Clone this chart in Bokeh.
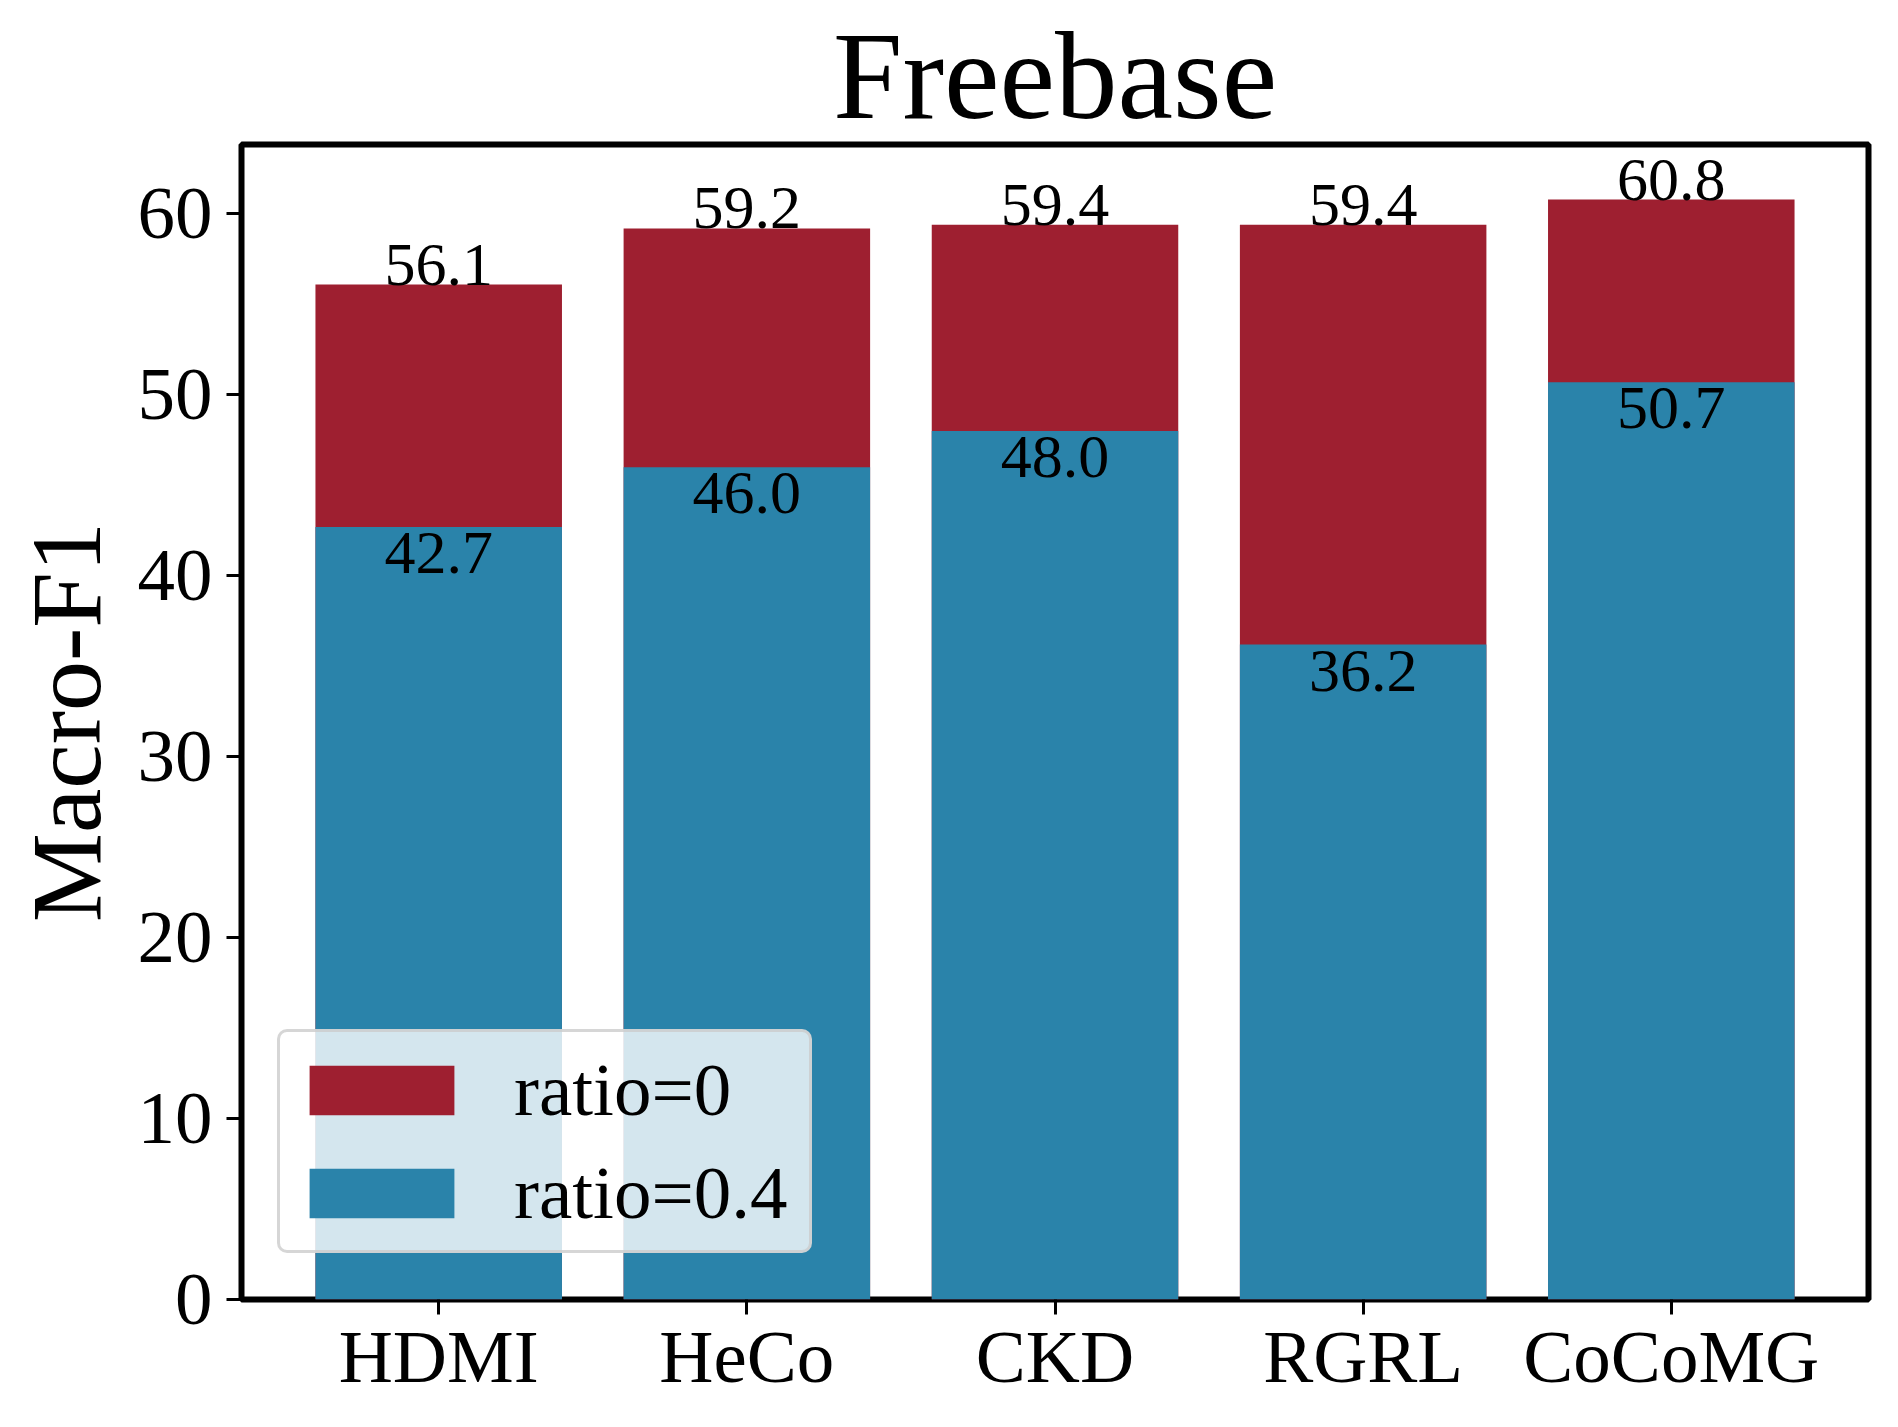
from bokeh.plotting import figure
from bokeh.models import ColumnDataSource, Range1d, FixedTicker
from bokeh.embed import file_html
from bokeh.resources import INLINE
from bokeh.core.properties import value

# ---- data ----
categories = ["HDMI", "HeCo", "CKD", "RGRL", "CoCoMG"]
ratio_0 = [56.1, 59.2, 59.4, 59.4, 60.8]
ratio_04 = [42.7, 46.0, 48.0, 36.2, 50.7]
y_ticks = [0, 10, 20, 30, 40, 50, 60]
title_text = "Freebase"
y_label = "Macro-F1"
series_names = ["ratio=0", "ratio=0.4"]

# ---- styles ----
RED = "#9E1F30"
BLUE = "#2A83AA"
FONT = "Liberation Serif"

xs = list(range(len(categories)))
y_max = max(ratio_0) * 1.05

src = ColumnDataSource(dict(
    x=xs,
    r0=ratio_0,
    r4=ratio_04,
    l0=[f"{v:.1f}" for v in ratio_0],
    l4=[f"{v:.1f}" for v in ratio_04],
))

p = figure(width=1880, height=1408, output_backend="svg", toolbar_location=None,
           x_range=Range1d(-0.64, len(categories) - 1 + 0.64),
           y_range=Range1d(0, y_max),
           min_border_left=241, min_border_right=12,
           min_border_top=144, min_border_bottom=109)

p.title.text = title_text
p.title.align = "center"
p.title.text_font = FONT
p.title.text_font_size = "125px"
p.title.text_font_style = "normal"
p.title.text_color = "black"
p.title.standoff = 0

p.vbar(x="x", top="r0", bottom=0, width=0.8, source=src, fill_color=RED,
       line_color=None, legend_label=series_names[0])
p.vbar(x="x", top="r4", bottom=0, width=0.8, source=src, fill_color=BLUE,
       line_color=None, legend_label=series_names[1])

p.text(x="x", y="r0", text="l0", source=src, text_align="center",
       text_baseline="bottom", text_font=value(FONT),
       text_font_size="62px", text_color="black")
p.text(x="x", y="r4", text="l4", source=src, text_align="center",
       text_baseline="top", text_font=value(FONT), y_offset=6,
       text_font_size="62px", text_color="black")

p.grid.visible = False
p.outline_line_color = "black"
p.outline_line_width = 6
p.outline_line_alpha = 1.0

# x axis
xa = p.xaxis[0]
xa.ticker = FixedTicker(ticks=xs)
xa.major_label_overrides = {i: c for i, c in zip(xs, categories)}
xa.axis_line_color = None
xa.major_tick_in = 0
xa.major_tick_out = 15
xa.major_tick_line_width = 3
xa.minor_tick_line_color = None
xa.major_label_text_font = FONT
xa.major_label_text_font_size = "75px"
xa.major_label_text_color = "black"
xa.major_label_standoff = 0

# y axis
ya = p.yaxis[0]
ya.ticker = FixedTicker(ticks=y_ticks)
ya.axis_line_color = None
ya.major_tick_in = 0
ya.major_tick_out = 15
ya.major_tick_line_width = 3
ya.minor_tick_line_color = None
ya.major_label_text_font = FONT
ya.major_label_text_font_size = "75px"
ya.major_label_text_color = "black"
ya.major_label_standoff = 14
ya.axis_label = y_label
ya.axis_label_text_font = FONT
ya.axis_label_text_font_size = "100px"
ya.axis_label_text_font_style = "normal"
ya.axis_label_text_color = "black"
ya.axis_label_standoff = 13

# legend
lg = p.legend[0]
lg.location = (36, 46)
lg.glyph_width = 181
lg.glyph_height = 62
lg.label_standoff = 42
lg.label_width = 284
lg.label_height = 93
lg.spacing = 10
lg.padding = 11
lg.label_text_font = FONT
lg.label_text_font_size = "75px"
lg.label_text_color = "black"
lg.background_fill_color = "white"
lg.background_fill_alpha = 0.8
lg.border_line_color = "#cccccc"
lg.border_line_width = 3
lg.border_line_alpha = 0.8
lg.border_radius = 10

open("out.html", "w").write(file_html(p, INLINE))
